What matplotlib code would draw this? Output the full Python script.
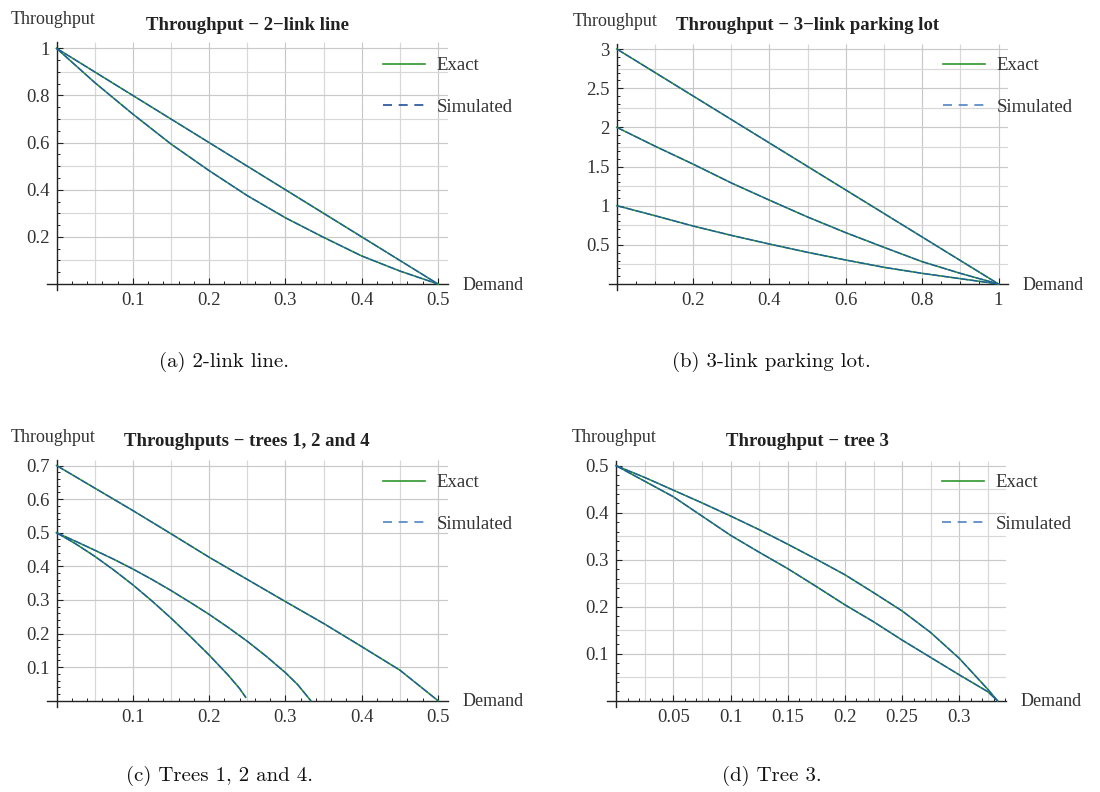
import matplotlib
matplotlib.use('Agg')
import matplotlib.pyplot as plt
from matplotlib.lines import Line2D
from matplotlib.ticker import FixedLocator, FixedFormatter, MultipleLocator

# ---- values ----
# (a) 2-link line
a_x = [0, 0.05, 0.1, 0.15, 0.2, 0.25, 0.3, 0.35, 0.4, 0.45, 0.5]
a_upper = [1.0, 0.9, 0.8, 0.7, 0.6, 0.5, 0.4, 0.3, 0.2, 0.1, 0.0]
a_lower = [1.0, 0.855, 0.721, 0.594, 0.481, 0.375, 0.281, 0.198, 0.119, 0.055, 0.0]

# (b) 3-link parking lot
b_x = [0, 0.1, 0.2, 0.3, 0.4, 0.5, 0.6, 0.7, 0.8, 0.9, 1.0]
b_top = [3.0, 2.7, 2.4, 2.1, 1.8, 1.5, 1.2, 0.9, 0.6, 0.3, 0.0]
b_mid = [2.0, 1.76, 1.53, 1.29, 1.07, 0.855, 0.655, 0.468, 0.285, 0.136, 0.0]
b_low = [1.0, 0.872, 0.74, 0.621, 0.51, 0.404, 0.306, 0.213, 0.136, 0.068, 0.0]

# (c) trees 1, 2 and 4
c_x_top = [0, 0.05, 0.1, 0.15, 0.2, 0.25, 0.3, 0.35, 0.4, 0.45, 0.5]
c_top = [0.7, 0.633, 0.566, 0.497, 0.427, 0.361, 0.295, 0.23, 0.161, 0.091, 0.0]
c_x_mid = [0, 0.025, 0.05, 0.075, 0.1, 0.125, 0.15, 0.175, 0.2, 0.225, 0.25,
           0.275, 0.3, 0.316, 0.3333]
c_mid = [0.5, 0.4745, 0.448, 0.421, 0.392, 0.361, 0.328, 0.293, 0.257, 0.218,
         0.177, 0.132, 0.0835, 0.048, 0.0]
c_x_low = [0, 0.025, 0.05, 0.075, 0.1, 0.125, 0.15, 0.175, 0.2, 0.225, 0.24, 0.248]
c_low = [0.5, 0.467, 0.43, 0.389, 0.345, 0.297, 0.246, 0.192, 0.136, 0.076,
         0.036, 0.01]

# (d) tree 3
d_x = [0, 0.025, 0.05, 0.075, 0.1, 0.125, 0.15, 0.175, 0.2, 0.225, 0.25,
       0.275, 0.3, 0.325, 0.3333]
d_upper = [0.5, 0.475, 0.448, 0.421, 0.393, 0.364, 0.333, 0.301, 0.268,
           0.23, 0.191, 0.145, 0.09, 0.024, 0.0]
d_lower = [0.5, 0.467, 0.434, 0.393, 0.352, 0.316, 0.281, 0.243, 0.204,
           0.168, 0.129, 0.092, 0.055, 0.019, 0.0]

# tick labels
a_xticks = ['0.1', '0.2', '0.3', '0.4', '0.5']
a_yticks = ['0.2', '0.4', '0.6', '0.8', '1']
b_xticks = ['0.2', '0.4', '0.6', '0.8', '1']
b_yticks = ['0.5', '1', '1.5', '2', '2.5', '3']
c_xticks = ['0.1', '0.2', '0.3', '0.4', '0.5']
c_yticks = ['0.1', '0.2', '0.3', '0.4', '0.5', '0.6', '0.7']
d_xticks = ['0.05', '0.1', '0.15', '0.2', '0.25', '0.3']
d_yticks = ['0.1', '0.2', '0.3', '0.4', '0.5']

titles = ['Throughput \u2212 2\u2212link line',
          'Throughput \u2212 3\u2212link parking lot',
          'Throughputs \u2212 trees 1, 2 and 4',
          'Throughput \u2212 tree 3']
captions = ['(a) 2-link line.', '(b) 3-link parking lot.',
            '(c) Trees 1, 2 and 4.', '(d) Tree 3.']

GREEN = '#2e962e'
BLUE = '#1f5ca6'
SERIF = 'Liberation Serif'
FS = 13.5

W, H = 1100, 792
fig = plt.figure(figsize=(W / 100, H / 100), dpi=100)


def make_panel(ox, oy, sx, sy, xlim, ylim):
    # ox, oy: pixel position of the origin; sx, sy: pixels per unit
    x0 = ox + sx * xlim[0]
    x1 = ox + sx * xlim[1]
    ytop = oy - sy * ylim[1]
    ybot = oy - sy * ylim[0]
    ax = fig.add_axes([x0 / W, 1 - ybot / H, (x1 - x0) / W, (ybot - ytop) / H])
    ax.set_xlim(xlim)
    ax.set_ylim(ylim)
    ax.patch.set_alpha(0)
    return ax


def style(ax, xlabels, ylabels, xminor, yminor, gx, gy):
    xl, yl = ax.get_xlim(), ax.get_ylim()
    xmaj = [float(s) for s in xlabels]
    ymaj = [float(s) for s in ylabels]
    # grid in the positive quadrant only
    for g in gx:
        c = '#c9c9c9' if any(abs(g - m) < 1e-9 for m in xmaj) else '#d8d8d8'
        ax.vlines(g, 0, yl[1], colors=c, lw=0.85, zorder=0)
    for g in gy:
        c = '#c9c9c9' if any(abs(g - m) < 1e-9 for m in ymaj) else '#d8d8d8'
        ax.hlines(g, 0, xl[1], colors=c, lw=0.85, zorder=0)
    for s in ['top', 'right']:
        ax.spines[s].set_visible(False)
    for s in ['left', 'bottom']:
        ax.spines[s].set_position(('data', 0))
        ax.spines[s].set_color('#222222')
        ax.spines[s].set_linewidth(1.0)
    ax.xaxis.set_major_locator(FixedLocator(xmaj))
    ax.xaxis.set_major_formatter(FixedFormatter(xlabels))
    ax.yaxis.set_major_locator(FixedLocator(ymaj))
    ax.yaxis.set_major_formatter(FixedFormatter(ylabels))
    ax.xaxis.set_minor_locator(MultipleLocator(xminor))
    ax.yaxis.set_minor_locator(MultipleLocator(yminor))
    ax.tick_params(which='major', direction='in', length=4, width=0.8,
                   color='#222222', labelsize=FS, labelcolor='#333333')
    ax.tick_params(which='minor', direction='in', length=2.2, width=0.7,
                   color='#222222')
    ax.tick_params(axis='x', pad=6)
    ax.tick_params(axis='y', pad=5)
    for lab in ax.get_xticklabels() + ax.get_yticklabels():
        lab.set_family(SERIF)


def curves(ax, xs, ys):
    for x, y in zip(xs, ys):
        ax.plot(x, y, color=GREEN, lw=1.15, zorder=3)
    for x, y in zip(xs, ys):
        ax.plot(x, y, color=BLUE, lw=0.95, dashes=(6, 1.2), zorder=4)


def legend(ax, lx, ly, simcolor):
    h = [Line2D([], [], color=GREEN, lw=1.2),
         Line2D([], [], color=simcolor, lw=1.2, dashes=(5.4, 4))]
    leg = ax.legend(h, ['Exact', 'Simulated'], loc='upper left',
                    bbox_to_anchor=(lx / W, 1 - ly / H),
                    bbox_transform=fig.transFigure, frameon=False,
                    borderpad=0, borderaxespad=0, handlelength=2.25,
                    handletextpad=0.6, labelspacing=1.3,
                    prop={'family': SERIF, 'size': FS})
    for t in leg.get_texts():
        t.set_color('#333333')


def frange(a, b, step):
    n = int(round((b - a) / step))
    return [round(a + i * step, 6) for i in range(n + 1)]


# (a)
ax = make_panel(56.5, 284, 763, 235.7, (-0.012, 0.513), (-0.025, 1.025))
style(ax, a_xticks, a_yticks, 0.02, 0.05, frange(0.05, 0.5, 0.05), frange(0.1, 1.0, 0.1))
curves(ax, [a_x, a_x], [a_upper, a_lower])
legend(ax, 383, 57, '#1f4f9a')

# (b)
ax = make_panel(616.8, 284, 381.7, 78.33, (-0.02, 1.025), (-0.075, 3.07))
style(ax, b_xticks, b_yticks, 0.05, 0.1, frange(0.1, 1.0, 0.1), frange(0.25, 3.0, 0.25))
curves(ax, [b_x, b_x, b_x], [b_top, b_mid, b_low])
legend(ax, 943, 57, '#4f84c4')

# (c)
ax = make_panel(56.5, 700.7, 763, 336, (-0.012, 0.513), (-0.018, 0.716))
style(ax, c_xticks, c_yticks, 0.02, 0.02, frange(0.05, 0.5, 0.05), frange(0.1, 0.7, 0.1))
curves(ax, [c_x_top, c_x_mid, c_x_low], [c_top, c_mid, c_low])
legend(ax, 383, 474, '#4f84c4')

# (d)
ax = make_panel(616.1, 700.7, 1144, 470, (-0.008, 0.341), (-0.013, 0.511))
style(ax, d_xticks, d_yticks, 0.01, 0.02, frange(0.025, 0.325, 0.025), frange(0.05, 0.5, 0.05))
curves(ax, [d_x, d_x], [d_upper, d_lower])
legend(ax, 942, 474, '#4f84c4')


# axis labels, titles and captions placed in figure pixels
def ftext(x, y, s, **kw):
    fig.text(x / W, 1 - y / H, s, va='center', **kw)


for (lx, ly), (tx, ty), (dx, dy), t in zip(
        [(11, 20), (573, 21), (11, 437), (572, 437)],
        [(247, 25), (808, 25), (247, 442), (807, 442)],
        [(463, 285), (1023, 285), (463, 701), (1021, 701)],
        titles):
    ftext(lx, ly, 'Throughput', ha='left', family=SERIF, size=13, color='#333333')
    ftext(tx, ty, t, ha='center', family=SERIF, size=FS, weight='bold', color='#222222')
    ftext(dx, dy, 'Demand', ha='left', family=SERIF, size=13, color='#333333')

for (cx, cy), c in zip([(224, 362), (771, 362), (220, 776), (772, 776)], captions):
    ftext(cx, cy, c, ha='center', family='cmr10', size=15, color='#111111')

fig.savefig('out.png', dpi=100)
